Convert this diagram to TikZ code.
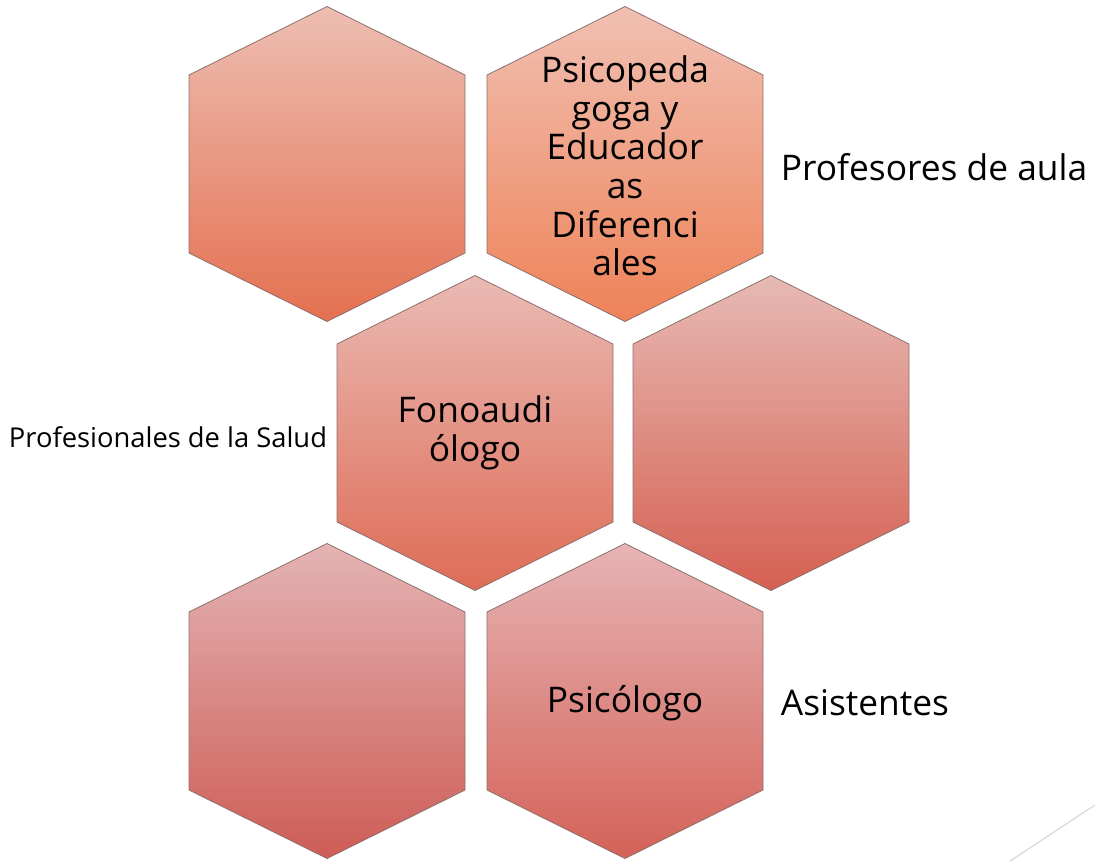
\documentclass[tikz,border=0pt]{standalone}
\usepackage{fontspec}
\setmainfont{Open Sans}
\usepackage{xcolor}

\begin{document}
\begin{tikzpicture}[x=0.75pt,y=0.75pt,yscale=-1,xscale=1]
\tikzset{
  hexa/.style={draw={rgb, 255:red, 140; green, 112; blue, 110 }, line width=0.6pt, line join=round},
  bigtext/.style={align=center, font=\fontsize{26.5}{29}\selectfont, inner sep=0pt},
  smalltext/.style={align=center, font=\fontsize{20.5}{24}\selectfont, inner sep=0pt}
}
\useasboundingbox (0,0) rectangle (1095,861);

%Shape: Hexagon [top left]
\draw [hexa, top color={rgb, 255:red, 237; green, 190; blue, 178 }, bottom color={rgb, 255:red, 228; green, 112; blue, 80 }] (327,6.5) -- (465,75) -- (465,253) -- (327,321.5) -- (189,253) -- (189,75) -- cycle ;
%Shape: Hexagon [top right]
\draw [hexa, top color={rgb, 255:red, 241; green, 192; blue, 178 }, bottom color={rgb, 255:red, 238; green, 130; blue, 88 }] (625,6.5) -- (763,75) -- (763,253) -- (625,321.5) -- (487,253) -- (487,75) -- cycle ;
%Shape: Hexagon [middle left]
\draw [hexa, top color={rgb, 255:red, 234; green, 186; blue, 180 }, bottom color={rgb, 255:red, 222; green, 108; blue, 86 }] (475,275.5) -- (613,344) -- (613,522) -- (475,590.5) -- (337,522) -- (337,344) -- cycle ;
%Shape: Hexagon [middle right]
\draw [hexa, top color={rgb, 255:red, 231; green, 186; blue, 180 }, bottom color={rgb, 255:red, 214; green, 96; blue, 82 }] (771,275.5) -- (909,344) -- (909,522) -- (771,590.5) -- (633,522) -- (633,344) -- cycle ;
%Shape: Hexagon [bottom left]
\draw [hexa, top color={rgb, 255:red, 228; green, 180; blue, 180 }, bottom color={rgb, 255:red, 206; green, 92; blue, 86 }] (327,543.5) -- (465,612) -- (465,790) -- (327,858.5) -- (189,790) -- (189,612) -- cycle ;
%Shape: Hexagon [bottom right]
\draw [hexa, top color={rgb, 255:red, 230; green, 180; blue, 180 }, bottom color={rgb, 255:red, 212; green, 98; blue, 88 }] (625,543.5) -- (763,612) -- (763,790) -- (625,858.5) -- (487,790) -- (487,612) -- cycle ;

%Straight Lines [corner]
\draw [color={rgb, 255:red, 217; green, 217; blue, 217 }, line width=0.9pt] (1010,861) -- (1095,805) ;

% Text Node
\draw (625,166) node [bigtext] (psico) {Psicopeda\\goga y\\Educador\\as\\Diferenci\\ales};
% Text Node
\draw (934,167) node [bigtext] (profes) {Profesores de aula};
% Text Node
\draw (475,433) node [bigtext] (fono) {Fonoaudi\\ólogo};
% Text Node
\draw (168,437) node [smalltext] (salud) {Profesionales de la Salud};
% Text Node
\draw (625,703) node [bigtext] (psicol) {Psicólogo};
% Text Node
\draw (865,703) node [bigtext] (asist) {Asistentes};

\end{tikzpicture}
\end{document}
